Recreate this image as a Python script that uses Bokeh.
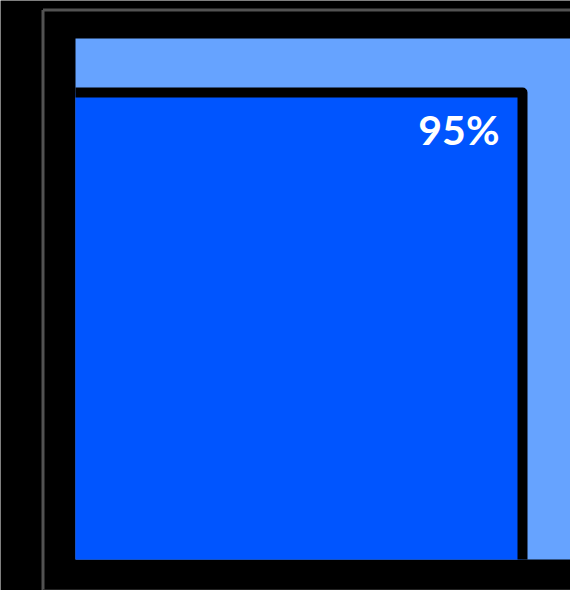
from bokeh.plotting import figure
from bokeh.models import Range1d, ColumnDataSource
from bokeh.core.properties import value
from bokeh.embed import file_html
from bokeh.resources import INLINE

# ---- data ----
labels = ["95%"]
values = [95]
total = [100]

# ---- layout (pixel geometry of the canvas) ----
W, H = 570, 590
x0_px, bar_right_px = 75, 522          # 0 and values[0] in pixels
base_px = 559                          # y = 0 in pixels
k = (bar_right_px - x0_px) / values[0]  # pixels per unit

x_start, x_end = -x0_px / k, (W - x0_px) / k
y_start, y_end = -(H - base_px) / k, base_px / k

bar_top = (base_px - 92) / k
track_top = (base_px - 38) / k

p = figure(width=W, height=H, output_backend="svg", toolbar_location=None,
           x_range=Range1d(x_start, x_end), y_range=Range1d(y_start, y_end),
           min_border=0, min_border_left=0, min_border_right=0,
           min_border_top=0, min_border_bottom=0)
p.axis.visible = False
p.grid.visible = False
p.outline_line_color = None
p.background_fill_color = "black"
p.border_fill_color = "black"

# grey frame lines
gx = (42.5 - x0_px) / k
gy_top = (base_px - 9.5) / k
gy_bot = (base_px - 589.5) / k
p.segment(x0=[gx, gx], y0=[gy_bot - 5, gy_top], x1=[gx, x_end + 5], y1=[gy_top, gy_top],
          line_color="#525252", line_width=3)
p.segment(x0=[gx], y0=[gy_bot], x1=[x_end + 5], y1=[gy_bot],
          line_color="#2e2e2e", line_width=1.5)

src = ColumnDataSource(dict(label=labels, value=values, total=total))

# track
p.quad(left=0, right=x_end + 10, bottom=0, top=track_top,
       fill_color="#66a3ff", line_color=None)

# bar fill
p.quad(left=0, right="value", bottom=0, top=bar_top,
       source=src, fill_color="#0055ff", line_color=None)

# bar outline on top and right edges
v = values[0]
p.line(x=[0, v, v], y=[bar_top, bar_top, 0], line_color="black", line_width=10,
       line_join="round", line_cap="butt")

p.text(x="value", y=bar_top, text="label", source=src,
       x_offset=-23, y_offset=37, text_align="right", text_baseline="alphabetic",
       text_color="white", text_font=value("Lato"), text_font_style="bold",
       text_font_size="41px")

open("out.html", "w").write(file_html(p, INLINE))
